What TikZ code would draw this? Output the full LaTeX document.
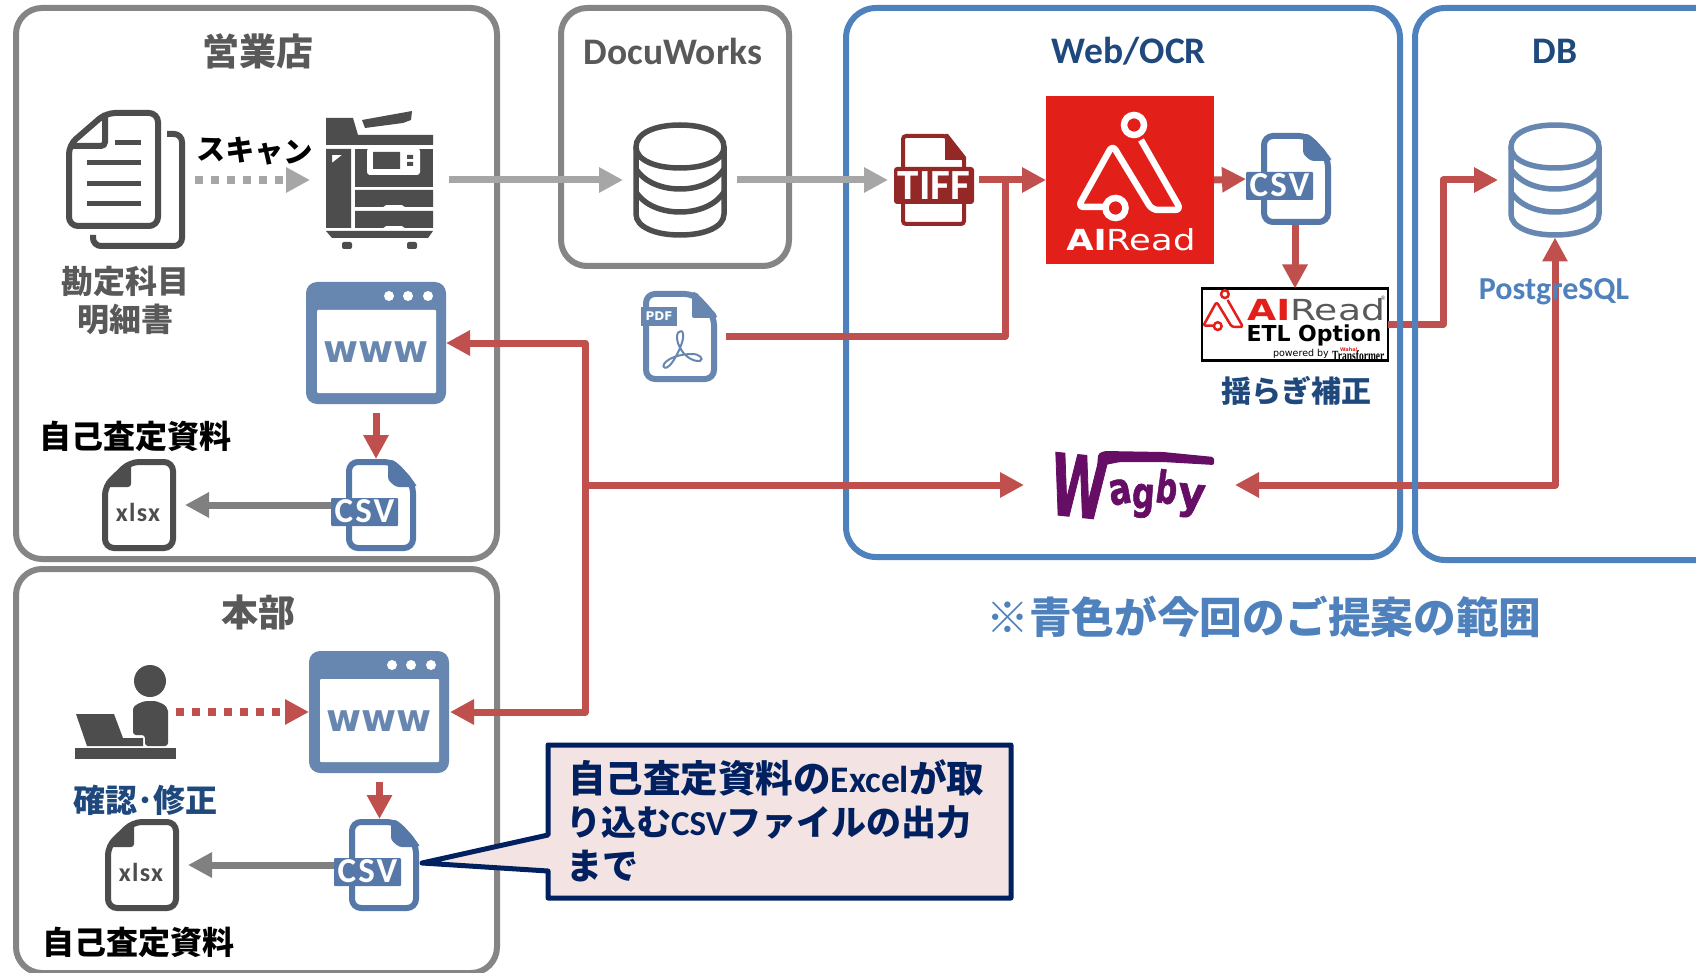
\documentclass[tikz,border=0pt]{standalone}
\usepackage{fontspec}
\usetikzlibrary{arrows.meta,calc}
\setmainfont{Carlito}
\newfontfamily\jpf{Noto Sans CJK JP}
\newfontfamily\djv{DejaVu Sans}
\newfontfamily\djvheavy{DejaVu Sans}[BoldFeatures={FakeBold=1.5}]
\newfontfamily\lser{Liberation Serif}
\newcommand\fsz[1]{\fontsize{#1}{#1}\selectfont}
\definecolor{panelgray}{HTML}{858585}
\definecolor{icondark}{HTML}{4D4D4D}
\definecolor{titlegray}{HTML}{595959}
\definecolor{lightarrow}{HTML}{A6A6A6}
\definecolor{midarrow}{HTML}{808080}
\definecolor{redarrow}{HTML}{C0504D}
\definecolor{bluebox}{HTML}{4F81BD}
\definecolor{navytext}{HTML}{1F497D}
\definecolor{webblue}{HTML}{6787B0}
\definecolor{csvblue}{HTML}{5578A9}
\definecolor{tiffred}{HTML}{942827}
\definecolor{aired}{HTML}{E31F1A}
\definecolor{calloutline}{HTML}{002060}
\definecolor{calloutfill}{HTML}{F3E3E3}
\definecolor{wagbypurple}{HTML}{660E66}
\tikzset{
  panel/.style={draw=panelgray,line width=6pt,rounded corners=26pt},
  bluepanel/.style={draw=bluebox,line width=6pt,rounded corners=30pt},
  iconbox/.style={inner sep=0pt,outer sep=0pt,minimum width=#1},
  tipbig/.style={-{Triangle[length=24pt,width=24pt]}},
  conn/.style={line width=7pt,line join=round},
  redconn/.style={conn,draw=redarrow},
  lightconn/.style={conn,draw=lightarrow},
  midconn/.style={conn,draw=midarrow},
  squares/.style={line width=8pt,dash pattern=on 8pt off 8pt},
  titletext/.style={font=\fsz{37}\jpf\bfseries,text=titlegray,inner sep=0pt},
  latintitle/.style={font=\fsz{37.5}\bfseries,inner sep=0pt},
  jplabel/.style={font=\fsz{32}\jpf\bfseries,inner sep=0pt},
  whitecsv/.style={font=\fsz{35}\bfseries\addfontfeature{LetterSpace=6},text=white,inner sep=0pt}
}
\newcommand\dbicon[3]{%
  \begin{scope}[shift={(#1,#2)},draw=#3,line width=5.5pt]
    \draw (3,25) .. controls (3,11) and (22,3) .. (47,3) .. controls (72,3) and (91,11) .. (91,25)
      .. controls (91,38) and (72,46) .. (47,46) .. controls (22,46) and (3,38) .. (3,25) -- cycle;
    \draw (3,25) -- (3,92) .. controls (3,105) and (22,113) .. (47,113) .. controls (72,113) and (91,105) .. (91,92) -- (91,25);
    \draw (3,47) .. controls (12,61) and (30,67) .. (47,67) .. controls (64,67) and (82,61) .. (91,47);
    \draw (3,70) .. controls (12,84) and (30,90) .. (47,90) .. controls (64,90) and (82,84) .. (91,70);
  \end{scope}}
\newcommand\csvicon[2]{%
  \begin{scope}[shift={(#1,#2)}]
    \draw[csvblue,line width=6pt,fill=white,rounded corners=9pt] (3,3) -- (47,3) -- (67,25) -- (67,89) -- (3,89) -- cycle;
    \fill[csvblue,rounded corners=3pt] (42,1) -- (48,1) -- (70,25) -- (70,28) -- (50,28) -- (42,21) -- cycle;
    \fill[csvblue,rounded corners=1pt] (-15,39) rectangle (52,67);
    \node[whitecsv] at (18.5,52.5) {CSV};
  \end{scope}}
\newcommand\xlsxicon[2]{%
  \begin{scope}[shift={(#1,#2)}]
    \draw[icondark,line width=6pt,fill=white,rounded corners=9pt] (28,3) -- (71,3) -- (71,89) -- (3,89) -- (3,27) -- cycle;
    \fill[icondark,rounded corners=3pt] (29,1) -- (29,28) -- (1,28) -- cycle;
    \node[font=\fsz{26}\bfseries\addfontfeature{LetterSpace=5},text=icondark,inner sep=0pt] at (36,53) {xlsx};
  \end{scope}}
\newcommand\wwwicon[2]{%
  \begin{scope}[shift={(#1,#2)}]
    \fill[webblue,rounded corners=11pt] (0,0) rectangle (140,122);
    \fill[white,rounded corners=1pt] (11,28) rectangle (130,111);
    \foreach \dx in {83,102,122} \fill[white] (\dx,14) circle[radius=5];
    \node[font=\fsz{38}\djv\bfseries,text=webblue,inner sep=0pt] at (70,70) {www};
  \end{scope}}
\newcommand\aimark[6]{% x y scale colour bg lw
  \begin{scope}[shift={(#1,#2)},scale=#3]
    \draw[#4,line width=#6pt,rounded corners=#3*6pt,line join=round] (95,44) -- (135,114) -- (106,114) -- (66.5,49) -- (32,111) -- (58,111);
    \draw[#4,line width=#6pt,fill=#5] (88,29) circle[radius=10];
    \draw[#4,line width=#6pt,fill=#5] (69.5,112) circle[radius=10];
  \end{scope}}
\begin{document}
\begin{tikzpicture}[x=1pt,y=-1pt]
\useasboundingbox (0,0) rectangle (1696,973);
\fill[white] (0,0) rectangle (1696,973);

% panels
\draw[panel] (16,8) rectangle (497,559);
\draw[panel] (16,569) rectangle (497,973);
\draw[panel] (561,8) rectangle (789,266);

% layout nodes for icons
\node[iconbox=107pt,minimum height=138pt] (copier) at (379.5,180) {};
\node[iconbox=118pt,minimum height=138pt] (docs) at (126,180) {};
\node[iconbox=94pt,minimum height=115pt] (dbA) at (680,180) {};
\node[iconbox=94pt,minimum height=115pt] (dbB) at (1555,180) {};
\node[iconbox=80pt,minimum height=92pt] (tiff) at (934,180) {};
\node[iconbox=168pt,minimum height=168pt,fill=aired] (airead) at (1130,180) {};
\node[iconbox=86pt,minimum height=92pt] (csvR) at (1289,179) {};
\node[iconbox=186pt,minimum height=72pt,draw=black,line width=2.5pt,fill=white] (etl) at (1295,324.5) {};
\node[iconbox=76pt,minimum height=91pt] (pdf) at (680,336.5) {};
\node[iconbox=140pt,minimum height=122pt] (webA) at (376,343) {};
\node[iconbox=141pt,minimum height=122pt] (webB) at (379.5,712) {};
\node[iconbox=85pt,minimum height=92pt] (csvA) at (373.5,505) {};
\node[iconbox=85pt,minimum height=92pt] (csvB) at (376.5,865) {};
\node[iconbox=74pt,minimum height=92pt] (xlsxA) at (139,505) {};
\node[iconbox=74pt,minimum height=92pt] (xlsxB) at (142,865) {};
\node[iconbox=100pt,minimum height=64pt] (person) at (126,712) {};
\node[iconbox=211pt,minimum height=70pt] (wagby) at (1129.5,485) {};
\coordinate (busTop) at (585,343);
\coordinate (busMid) at (585,485);
\coordinate (busBot) at (585,712);
\coordinate (pdfTurn) at (1005,336.5);
\coordinate (pdfJoin) at (1005,180);
\coordinate (etlTurnA) at (1443,324.5);
\coordinate (etlTurnB) at (1443,180);
\coordinate (wagbyTurn) at (1555,485);

% text behind connectors
\node[jplabel,text=titlegray] (kamoku) at (125,281) {勘定科目};
\node[jplabel,text=titlegray] (meisai) at (125,319) {明細書};

% connector under the blue panels
\draw[redconn,tipbig] (etl.east) -- (etlTurnA) -- (etlTurnB) -- ([xshift=-10pt]dbB.west);

% web/ocr panel, under the remaining connectors
\draw[bluepanel] (846,8) rectangle (1400,557);

% connectors
\draw[lightconn,squares,tipbig] ([xshift=10pt]docs.east) -- ([xshift=-16pt]copier.west);
\draw[lightconn,tipbig] ([xshift=16pt]copier.east) -- ([xshift=-10pt]dbA.west);
\draw[lightconn,tipbig] ([xshift=10pt]dbA.east) -- ([xshift=-6pt]tiff.west);
\draw[redconn,tipbig] ([xshift=5pt]tiff.east) -- (airead.west);
\draw[redconn] ([xshift=8pt]pdf.east) -- (pdfTurn) -- (pdfJoin);
\draw[redconn,tipbig] (airead.east) -- (csvR.west);
\draw[redconn,tipbig] (etl.north |- csvR.south) -- (etl.north);
\draw[redconn,{Triangle[length=24pt,width=24pt]}-{Triangle[length=24pt,width=24pt]}] (webA.east) -- (busTop) -- (busBot) -- (webB.east);
\draw[redconn,tipbig] (busMid) -- (wagby.west);
\draw[redconn,{Triangle[length=24pt,width=24pt]}-{Triangle[length=24pt,width=24pt]}] (wagby.east) -- (wagbyTurn) -- (dbB.south);
\draw[redconn,tipbig] ([yshift=-9pt]webA.south) -- (webA.south |- csvA.north);
\draw[redconn,tipbig] ([yshift=-9pt]webB.south) -- (webB.south |- csvB.north);
\draw[midconn,tipbig] (csvA.west) -- ([xshift=9pt]xlsxA.east);
\draw[midconn,tipbig] (csvB.west) -- ([xshift=9pt]xlsxB.east);
\draw[redconn,squares,tipbig] (person.east) -- (webB.west);

% db panel over connectors
\draw[bluepanel] (1415,8) rectangle (1760,560);

% titles
\node[titletext] (eigyo) at (258,51) {営業店};
\node[titletext] (honbu) at (258,612) {本部};
\node[latintitle,text=titlegray] (docuworks) at (673,51) {DocuWorks};
\node[latintitle,text=navytext] (webocr) at (1129,51) {Web/OCR};
\node[latintitle,text=navytext] (dbtitle) at (1555,51) {DB};
\node[inner sep=0pt,font=\fsz{32}\bfseries,text=bluebox] (pgsql) at (1554,292) {PostgreSQL};

% scan label
\node[font=\fsz{29}\jpf\bfseries,text=black,inner sep=0pt,rotate=-2] (scan) at (255,151) {スキャン};

% document icon
\begin{scope}[icondark,line width=6pt]
  \draw[rounded corners=8pt] (167,134) -- (182,134) -- (182,246) -- (93,246) -- (93,235);
  \draw[rounded corners=9pt] (106,113) -- (158,113) -- (158,226) -- (69,226) -- (69,145) -- cycle;
  \draw[rounded corners=4pt] (105,113) -- (105,146) -- (72,146);
  \draw[line width=5pt] (115,143) -- (141,143) (87,163) -- (141,163) (87,184) -- (141,184) (87,204) -- (141,204);
\end{scope}

% copier icon
\begin{scope}[even odd rule]
  \fill[icondark] (326,118) -- (353,118) -- (358,135) -- (433,135) -- (433,145) -- (326,145) -- cycle;
  \fill[icondark] (362,120) -- (412,111) -- (411,120) -- (403,123) -- (365,128) -- cycle;
  \fill[icondark] (326,149) rectangle (351,228) (332,155) -- (342,155) -- (332,163) -- cycle;
  \fill[icondark] (355,149) rectangle (433,187);
  \fill[white,rounded corners=3pt] (367,148) rectangle (420,175);
  \fill[icondark] (373,152) rectangle (400,169) (407,155) rectangle (413,159) (407,162) rectangle (413,166);
  \fill[icondark] (355,190) -- (433,190) -- (433,207) -- (405,207) -- (402,205) -- (386,205) -- (383,207) -- (355,207) -- cycle;
  \fill[icondark] (355,211) -- (433,211) -- (433,228) -- (405,228) -- (402,226) -- (386,226) -- (383,228) -- (355,228) -- cycle;
  \fill[icondark] (326,231) -- (433,231) -- (428,238) -- (332,238) -- cycle;
  \fill[icondark,rounded corners=2pt] (342,242) rectangle (352,249) (407,242) rectangle (417,249);
\end{scope}

% data stores
\dbicon{633}{122}{icondark}
\dbicon{1508}{122}{webblue}

% tiff
\begin{scope}
  \draw[tiffred,line width=4pt,fill=white,rounded corners=3pt] (903,136) -- (946,136) -- (964,158) -- (964,224) -- (903,224) -- cycle;
  \fill[tiffred] (945,134) -- (948,134) -- (966,157) -- (966,160) -- (945,160) -- cycle;
  \fill[tiffred,rounded corners=3pt] (894,167) rectangle (974,204);
  \node[font=\fsz{43}\bfseries,text=white,inner sep=0pt] at (934,185.5) {TIFF};
\end{scope}

% airead logo
\aimark{1046}{96}{1}{white}{aired}{6.5}
\node[inner sep=0pt,text=white,font=\fsz{29}\djv] (aireadword) at (1131,240) {\scalebox{1.22}[1]{{\bfseries AI}Read}};

% csv / xlsx / www / pdf
\csvicon{1261}{133}
\csvicon{346}{459}
\csvicon{349}{819}
\xlsxicon{102}{459}
\xlsxicon{105}{819}
\wwwicon{306}{282}
\wwwicon{309}{651}
\begin{scope}
  \draw[webblue,line width=6pt,fill=white,rounded corners=9pt] (646,294) -- (694,294) -- (714,316) -- (714,379) -- (646,379) -- cycle;
  \fill[webblue,rounded corners=2pt] (692,292) -- (696,292) -- (717,315) -- (717,318) -- (692,318) -- cycle;
  \fill[webblue] (641,307) rectangle (677,326);
  \node[font=\fsz{12}\djv\bfseries,text=white,inner sep=0pt] at (659,316.5) {PDF};
  \draw[webblue,line width=2pt] (681,331) .. controls (676,331) and (675,341) .. (682,351) .. controls (686,357) and (694,362) .. (700,361)
     .. controls (704,359) and (700,354) .. (692,354) .. controls (680,354) and (668,358) .. (664,364)
     .. controls (662,368) and (666,369) .. (669,366) .. controls (675,361) and (685,340) .. (683,334) .. controls (683,332) and (682,331) .. (681,331);
\end{scope}

% etl logo
\aimark{1191}{283}{0.385}{aired}{white}{2.5}
\node[inner sep=0pt,font=\fsz{29}\djv,anchor=west] (etlair) at (1247,310) {\scalebox{1.3}[1]{\textcolor{aired}{\bfseries AI}\textcolor{titlegray}{Read}}};
\node[inner sep=0pt,font=\fsz{6}\djv,text=titlegray,anchor=west] (etlreg) at (1380,298) {®};
\node[inner sep=0pt,font=\fsz{22}\djv\bfseries,text=black] (etlopt) at (1314,335) {ETL Option};
\node[inner sep=0pt,font=\fsz{9.5}\djv,text=black,anchor=east] (etlpow) at (1329,354) {powered by};
\node[inner sep=0pt,font=\fsz{14}\lser\bfseries,text=black,anchor=west] (etltr) at (1332,356) {\scalebox{0.68}[1]{Transformer}};
\node[inner sep=0pt,font=\fsz{5}\djv\bfseries,text=aired] (etlwaha) at (1349,349.5) {Waha!};

% person
\fill[icondark] (150,681) circle[radius=16];
\fill[icondark,rounded corners=3pt] (133,735) -- (133,712) .. controls (133,705) and (143,701) .. (150,701) .. controls (158,701) and (168,705) .. (168,714) -- (168,746) -- (145,746) -- (145,735) -- cycle;
\fill[icondark] (76,714) -- (114,714) -- (123,738) -- (143,738) -- (143,746) -- (87,746) -- cycle;
\fill[icondark] (75,748) rectangle (176,759);

% wagby logo
\begin{scope}
  \fill[wagbypurple,rounded corners=2pt] (1098,454) -- (1104,451) -- (1163,452) -- (1214,457) -- (1214,465) -- (1163,462) -- (1120,462) -- (1105,465) -- (1096,490) -- cycle;
  \node[inner sep=0pt,font=\fsz{85}\djvheavy\bfseries,text=wagbypurple,rotate=-6] (wagW) at (1079,486) {\scalebox{0.6}[1]{W}};
  \node[inner sep=0pt,font=\fsz{44}\djvheavy\bfseries,text=wagbypurple,rotate=10] (waga) at (1120,492) {\scalebox{0.75}[1]{a}};
  \node[inner sep=0pt,font=\fsz{44}\djvheavy\bfseries,text=wagbypurple,rotate=-4] (wagg) at (1143,501) {\scalebox{0.72}[1]{g}};
  \node[inner sep=0pt,font=\fsz{44}\djvheavy\bfseries,text=wagbypurple,rotate=-8] (wagb) at (1167,487) {\scalebox{0.68}[1]{b}};
  \node[inner sep=0pt,font=\fsz{44}\djvheavy\bfseries,text=wagbypurple,rotate=-6] (wagy) at (1191,501) {\scalebox{0.95}[1]{y}};
\end{scope}

% other labels
\node[inner sep=0pt,font=\fsz{30}\jpf\bfseries,text=navytext] (yuragi) at (1296,391) {揺らぎ補正};
\node[jplabel,text=black] (shiryoA) at (135,436) {自己査定資料};
\node[jplabel,text=black] (shiryoB) at (138,942) {自己査定資料};
\node[jplabel,text=navytext] (kakunin) at (145,800) {確認･修正};
\node[inner sep=0pt,font=\fsz{42.7}\jpf\bfseries,text=bluebox] (scopenote) at (1264,617) {※青色が今回のご提案の範囲};

% callout
\path[fill=calloutfill,draw=calloutline,line width=5pt,line join=round] (548,745) -- (1011,745) -- (1011,898) -- (548,898) -- (548,871) -- (422,863) -- (548,835) -- cycle;
\node[inner sep=0pt,anchor=west,text=calloutline,font=\fsz{37.5}\jpf\bfseries] (callA) at (568,778) {自己査定資料の{\normalfont\bfseries Excel}が取};
\node[inner sep=0pt,anchor=west,text=calloutline,font=\fsz{35}\jpf\bfseries] (callB) at (566,822) {り込む{\normalfont\bfseries CSV}ファイルの出力};
\node[inner sep=0pt,anchor=west,text=calloutline,font=\fsz{36}\jpf\bfseries] (callC) at (566,866) {まで};
\end{tikzpicture}
\end{document}
